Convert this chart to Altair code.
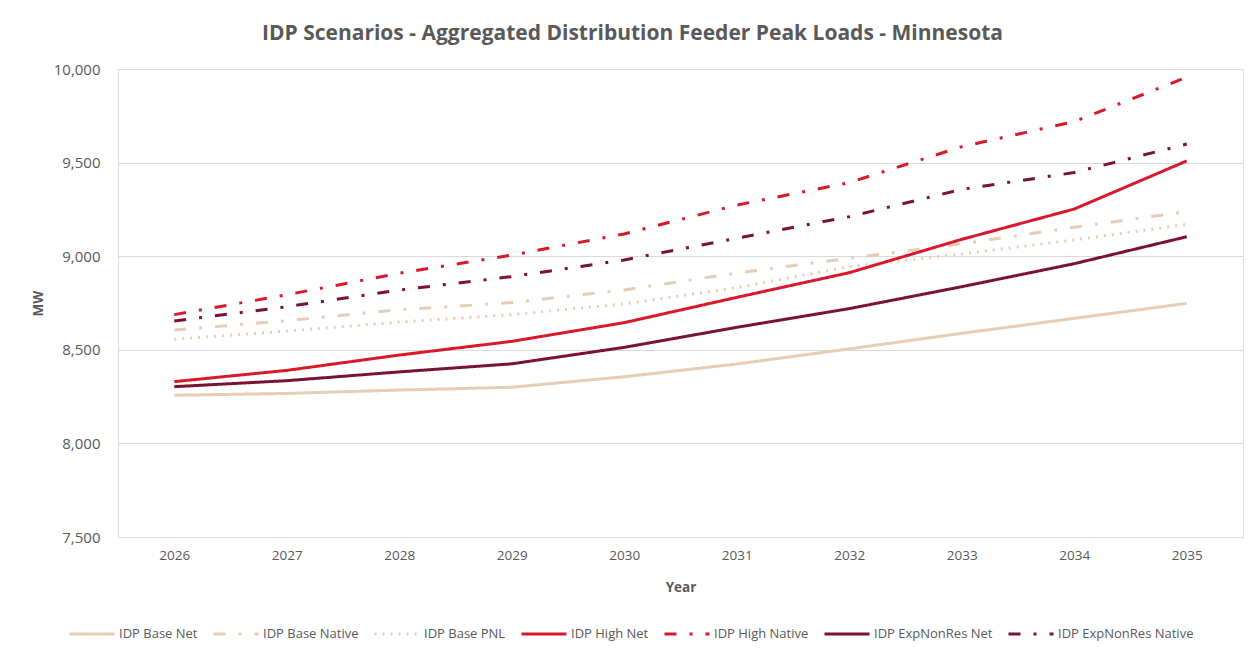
import altair as alt
import pandas as pd

years = ["2026", "2027", "2028", "2029", "2030", "2031", "2032", "2033", "2034", "2035"]

series_names = [
    "IDP Base Net",
    "IDP Base Native",
    "IDP Base PNL",
    "IDP High Net",
    "IDP High Native",
    "IDP ExpNonRes Net",
    "IDP ExpNonRes Native",
]

base_net = [8257, 8267, 8285, 8300, 8356, 8424, 8505, 8588, 8668, 8748]
base_native = [8606, 8655, 8714, 8752, 8820, 8910, 8989, 9066, 9155, 9238]
base_pnl = [8556, 8600, 8648, 8688, 8745, 8832, 8944, 9012, 9087, 9170]
high_net = [8330, 8390, 8472, 8545, 8645, 8780, 8912, 9090, 9252, 9509]
high_native = [8688, 8794, 8909, 9006, 9119, 9273, 9393, 9585, 9719, 9956]
exp_net = [8303, 8335, 8382, 8425, 8513, 8620, 8720, 8837, 8960, 9104]
exp_native = [8654, 8730, 8819, 8891, 8980, 9096, 9211, 9357, 9447, 9599]

series_values = [base_net, base_native, base_pnl, high_net, high_native, exp_net, exp_native]

colors = ["#E5CDB6", "#E5CDB6", "#E5CDB6", "#D9182B", "#D9182B", "#7A1232", "#7A1232"]
dashes = [[1, 0], [12, 13, 3, 13], [2, 6], [1, 0], [12, 13, 3, 13], [1, 0], [12, 13, 3, 13]]

rows = []
for name, vals in zip(series_names, series_values):
    for y, v in zip(years, vals):
        rows.append({"Year": y, "MW": v, "Series": name})
df = pd.DataFrame(rows)

FONT = "Open Sans"
GRAY = "#595959"

legend = alt.Legend(
    title=None,
    orient="none",
    direction="horizontal",
    legendX=-50,
    legendY=541,
    symbolType="stroke",
    symbolSize=2025,
    symbolStrokeWidth=3,
    labelFont=FONT,
    labelFontSize=13,
    labelColor=GRAY,
    labelOffset=3,
    columnPadding=9,
    columns=7,
)

chart = (
    alt.Chart(df)
    .mark_line(strokeWidth=3, strokeCap="butt")
    .encode(
        x=alt.X(
            "Year:O",
            sort=years,
            scale=alt.Scale(type="point", padding=0.5),
            axis=alt.Axis(
                title="Year",
                labelAngle=0,
                labelPadding=11,
                labelFontSize=13.5,
                labelColor=GRAY,
                labelFont=FONT,
                titleFont=FONT,
                titleFontSize=13.5,
                titleFontWeight="bold",
                titleColor=GRAY,
                titlePadding=19,
                domain=False,
                ticks=False,
                grid=False,
            ),
        ),
        y=alt.Y(
            "MW:Q",
            scale=alt.Scale(domain=[7500, 10000], nice=False, zero=False),
            axis=alt.Axis(
                title="MW",
                values=[7500, 8000, 8500, 9000, 9500, 10000],
                format=",.0f",
                labelPadding=18,
                labelFontSize=15,
                labelColor=GRAY,
                labelFont=FONT,
                titleFont=FONT,
                titleFontSize=13.5,
                titleFontWeight="bold",
                titleColor=GRAY,
                titleX=-80,
                titleY=234,
                titleAlign="center",
                titleBaseline="middle",
                domain=False,
                ticks=False,
                gridColor="#D9D9D9",
                gridWidth=1,
            ),
        ),
        color=alt.Color(
            "Series:N",
            sort=series_names,
            scale=alt.Scale(domain=series_names, range=colors),
            legend=legend,
        ),
        strokeDash=alt.StrokeDash(
            "Series:N",
            sort=series_names,
            scale=alt.Scale(domain=series_names, range=dashes),
            legend=legend,
        ),
    )
    .properties(
        width=1125,
        height=468,
        padding={"left": 110, "top": 61, "right": 4, "bottom": 107},
        autosize=alt.AutoSizeParams(type="none"),
        title=alt.TitleParams(
            "IDP Scenarios - Aggregated Distribution Feeder Peak Loads - Minnesota",
            font=FONT,
            fontSize=21,
            fontWeight="bold",
            color=GRAY,
            anchor="middle",
            frame="group",
            dx=-48,
            offset=18,
        ),
    )
    .configure_view(stroke=None)
    .configure(background="white")
)

chart.save("out.html", embed_options={"renderer": "svg", "actions": False})
